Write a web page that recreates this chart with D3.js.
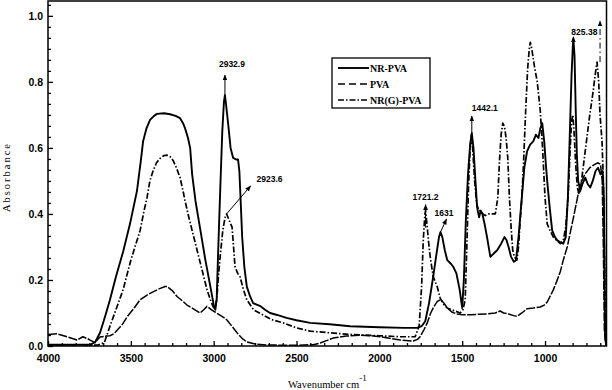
<!DOCTYPE html>
<html lang="en">
<head>
<meta charset="utf-8">
<title>FTIR spectra NR-PVA</title>
<script src="https://d3js.org/d3.v7.min.js"></script>
<style>
  body { margin: 0; background: white; }
  .axis text { font-family: "Liberation Sans", Arial, sans-serif; font-weight: bold; font-size: 10.5px; fill: black; }
  .axis path { display: none; }
  .axis line { stroke: black; stroke-width: 1.3px; }
  .axisTitle { font-family: "Liberation Serif", "Times New Roman", serif; font-size: 10.5px; fill: black; }
  .legendText { font-family: "Liberation Serif", "Times New Roman", serif; font-weight: bold; font-size: 10px; fill: black; }
  .peakLabel { font-family: "Liberation Sans", Arial, sans-serif; font-weight: bold; font-size: 8.5px; fill: black; }
</style>
</head>
<body>
<svg></svg>
<script>
// spectra: [wavenumber, absorbance]
const nrPva = [[4000,0.004],[3850,0.004],[3740,0.005],[3715,0.012],[3686,0.04],[3655,0.09],[3626,0.14],[3590,0.21],[3547,0.285],[3505,0.37],[3463,0.47],[3440,0.56],[3426,0.62],[3405,0.66],[3384,0.685],[3360,0.697],[3342,0.703],[3300,0.705],[3263,0.702],[3230,0.697],[3203,0.69],[3185,0.675],[3173,0.66],[3155,0.63],[3142,0.6],[3130,0.52],[3110,0.44],[3080,0.35],[3050,0.26],[3020,0.18],[2998,0.12],[2990,0.11],[2982,0.14],[2972,0.3],[2960,0.48],[2948,0.65],[2938,0.74],[2932,0.76],[2925,0.73],[2912,0.67],[2898,0.6],[2883,0.57],[2865,0.565],[2853,0.565],[2845,0.53],[2838,0.45],[2828,0.33],[2815,0.24],[2800,0.18],[2780,0.15],[2762,0.13],[2740,0.125],[2715,0.12],[2690,0.11],[2660,0.1],[2617,0.094],[2560,0.085],[2500,0.078],[2418,0.07],[2300,0.066],[2176,0.06],[2000,0.057],[1850,0.055],[1772,0.055],[1745,0.06],[1723,0.075],[1700,0.13],[1675,0.21],[1655,0.28],[1640,0.33],[1631,0.345],[1620,0.33],[1605,0.29],[1590,0.26],[1570,0.25],[1554,0.24],[1535,0.22],[1515,0.17],[1500,0.115],[1490,0.2],[1478,0.38],[1465,0.52],[1452,0.61],[1442,0.645],[1432,0.6],[1420,0.5],[1410,0.42],[1398,0.39],[1388,0.41],[1378,0.4],[1365,0.37],[1350,0.33],[1330,0.27],[1310,0.28],[1289,0.29],[1265,0.31],[1245,0.33],[1232,0.32],[1220,0.3],[1205,0.27],[1188,0.255],[1175,0.26],[1160,0.33],[1140,0.45],[1125,0.54],[1108,0.59],[1090,0.61],[1071,0.62],[1055,0.64],[1040,0.63],[1028,0.66],[1017,0.675],[1005,0.62],[995,0.55],[987,0.5],[972,0.42],[957,0.35],[940,0.33],[926,0.32],[910,0.315],[890,0.31],[875,0.33],[862,0.45],[850,0.65],[840,0.82],[832,0.91],[829,0.93],[822,0.88],[815,0.72],[808,0.58],[800,0.5],[787,0.47],[775,0.49],[757,0.51],[742,0.49],[727,0.48],[712,0.5],[695,0.53],[680,0.54],[665,0.52],[652,0.53],[645,0.45],[640,0.2],[637,0.02],[629,0]];

const pva = [[4000,0.035],[3946,0.037],[3885,0.028],[3825,0.018],[3790,0.028],[3760,0.022],[3746,0.018],[3716,0.01],[3700,0.02],[3686,0.027],[3650,0.03],[3626,0.031],[3600,0.038],[3583,0.048],[3550,0.066],[3523,0.088],[3480,0.115],[3444,0.14],[3400,0.155],[3366,0.164],[3330,0.173],[3293,0.18],[3281,0.18],[3250,0.168],[3221,0.15],[3190,0.137],[3161,0.124],[3120,0.112],[3082,0.1],[3060,0.11],[3040,0.12],[3034,0.118],[3015,0.11],[2992,0.103],[2950,0.09],[2920,0.079],[2890,0.06],[2859,0.04],[2830,0.024],[2800,0.012],[2750,0.006],[2678,0.003],[2500,0.002],[2400,0.004],[2357,0.009],[2279,0.024],[2200,0.03],[2116,0.033],[2050,0.031],[1995,0.028],[1874,0.018],[1796,0.015],[1770,0.02],[1754,0.028],[1730,0.05],[1711,0.07],[1690,0.1],[1670,0.12],[1650,0.135],[1630,0.14],[1610,0.13],[1590,0.115],[1560,0.102],[1530,0.097],[1500,0.095],[1450,0.095],[1400,0.096],[1350,0.097],[1300,0.1],[1271,0.106],[1250,0.1],[1220,0.097],[1190,0.092],[1168,0.09],[1140,0.1],[1108,0.113],[1070,0.115],[1029,0.118],[1005,0.124],[987,0.133],[970,0.15],[950,0.17],[930,0.195],[908,0.225],[890,0.26],[866,0.3],[845,0.35],[820,0.41],[800,0.46],[787,0.49],[760,0.52],[730,0.54],[700,0.55],[680,0.555],[665,0.55],[655,0.5],[648,0.3],[642,0.05],[629,0]];

const nrgPva = [[4000,0.002],[3850,0.002],[3700,0.003],[3660,0.01],[3626,0.06],[3590,0.11],[3547,0.17],[3500,0.26],[3444,0.35],[3420,0.41],[3402,0.45],[3385,0.5],[3366,0.53],[3345,0.555],[3324,0.568],[3300,0.577],[3281,0.578],[3262,0.573],[3245,0.562],[3225,0.54],[3203,0.51],[3185,0.47],[3173,0.44],[3150,0.39],[3120,0.33],[3090,0.27],[3060,0.21],[3040,0.17],[3020,0.14],[3004,0.12],[2992,0.11],[2980,0.15],[2970,0.22],[2961,0.27],[2945,0.35],[2931,0.39],[2922,0.4],[2910,0.385],[2898,0.37],[2889,0.36],[2880,0.3],[2871,0.24],[2855,0.22],[2841,0.21],[2820,0.17],[2800,0.14],[2760,0.11],[2702,0.094],[2650,0.08],[2581,0.07],[2500,0.055],[2418,0.045],[2300,0.04],[2176,0.035],[2000,0.031],[1874,0.028],[1784,0.028],[1760,0.06],[1745,0.18],[1735,0.32],[1725,0.4],[1721,0.41],[1713,0.37],[1700,0.3],[1693,0.27],[1675,0.21],[1651,0.18],[1633,0.145],[1610,0.125],[1590,0.115],[1554,0.108],[1512,0.1],[1495,0.11],[1482,0.14],[1472,0.3],[1462,0.48],[1452,0.6],[1445,0.64],[1437,0.6],[1425,0.5],[1412,0.43],[1400,0.41],[1391,0.41],[1375,0.4],[1360,0.395],[1340,0.4],[1320,0.4],[1300,0.4],[1285,0.45],[1275,0.56],[1265,0.64],[1255,0.675],[1245,0.665],[1235,0.63],[1225,0.57],[1215,0.45],[1205,0.36],[1195,0.29],[1185,0.27],[1170,0.26],[1160,0.3],[1150,0.38],[1140,0.45],[1130,0.55],[1118,0.7],[1105,0.84],[1095,0.9],[1089,0.92],[1080,0.9],[1065,0.85],[1047,0.8],[1029,0.715],[1015,0.6],[1000,0.45],[987,0.37],[970,0.35],[950,0.33],[930,0.32],[908,0.31],[890,0.32],[875,0.36],[860,0.46],[848,0.6],[840,0.68],[832,0.7],[825,0.65],[815,0.55],[805,0.48],[795,0.46],[785,0.48],[770,0.54],[750,0.62],[730,0.7],[710,0.77],[695,0.83],[686,0.86],[676,0.8],[668,0.7],[656,0.62],[648,0.5],[642,0.3],[636,0.08],[629,0]];

const seriesNames = ["NR-PVA", "PVA", "NR(G)-PVA"];
const xTicks = [4000, 3500, 3000, 2500, 2000, 1500, 1000];
const yTicks = [0, 0.2, 0.4, 0.6, 0.8, 1.0];

// peak annotations
const peakLabels = ["2932.9", "2923.6", "1721.2", "1631", "1442.1", "825.38"];
const peakWaves  = [2932, 2922, 1721, 1631, 1442, 829];
const peakAbs    = [0.76, 0.40, 0.41, 0.345, 0.645, 0.93];

const width = 612, height = 390;
const svg = d3.select("svg").attr("width", width).attr("height", height);

const x = d3.scaleLinear().domain([4000, 629]).range([48, 606.5]);
const y = d3.scaleLinear().domain([0, 1.045]).range([346, 1]);

// minor ticks, 5 between each pair of majors
const xMinor = d3.range(4000, 629, -500 / 6).filter(v => Math.abs(v % 500) > 1 && Math.abs(v % 500) < 499);
const yMinor = d3.range(0, 1.045, 0.2 / 6).filter(v => Math.abs((v * 5) - Math.round(v * 5)) > 0.01);

svg.append("g").attr("class", "axis")
  .attr("transform", "translate(0,346)")
  .call(d3.axisBottom(x).tickValues(xMinor).tickSize(-3).tickFormat(""));
svg.append("g").attr("class", "axis")
  .attr("transform", "translate(0,346)")
  .call(d3.axisBottom(x).tickValues(xTicks).tickSize(-5).tickPadding(9).tickFormat(d3.format("d")));

svg.append("g").attr("class", "axis")
  .attr("transform", "translate(48,0)")
  .call(d3.axisLeft(y).tickValues(yMinor).tickSize(-3).tickFormat(""));
svg.append("g").attr("class", "axis")
  .attr("transform", "translate(48,0)")
  .call(d3.axisLeft(y).tickValues(yTicks).tickSize(-5).tickPadding(5).tickFormat(d3.format(".1f")));

svg.append("clipPath").attr("id", "plotClip")
  .append("rect").attr("x", 48).attr("y", 1).attr("width", 558.5).attr("height", 345);

const line = d3.line().x(d => x(d[0])).y(d => y(d[1]));

const styles = [
  {data: nrPva, dash: null, w: 1.9},
  {data: pva, dash: "9,1.5", w: 1.5},
  {data: nrgPva, dash: "6,2,1.5,2", w: 1.7}
];

svg.append("g").attr("clip-path", "url(#plotClip)")
  .selectAll("path")
  .data(styles)
  .join("path")
  .attr("d", d => line(d.data))
  .attr("fill", "none")
  .attr("stroke", "black")
  .attr("stroke-width", d => d.w)
  .attr("stroke-linejoin", "round")
  .attr("stroke-dasharray", d => d.dash);

// frame
svg.append("rect")
  .attr("x", 48).attr("y", 1).attr("width", 558.5).attr("height", 345)
  .attr("fill", "none").attr("stroke", "black").attr("stroke-width", 1.5);

// arrow marker
svg.append("defs").append("marker")
  .attr("id", "head")
  .attr("viewBox", "0 0 10 10").attr("refX", 9).attr("refY", 5)
  .attr("markerUnits", "userSpaceOnUse")
  .attr("markerWidth", 6).attr("markerHeight", 7)
  .attr("orient", "auto")
  .append("path").attr("d", "M0,1 L10,5 L0,9 Z").attr("fill", "black");

// where each arrow starts/ends and its label sits, relative to the peak
const annoLayout = [
  {b: [0, 0],   t: [0, -20],  l: [7, -28],  anchor: "middle"},
  {b: [0, 0],   t: [24, -28], l: [30, -32], anchor: "start"},
  {b: [0, 17],  t: [0, -6],   l: [0, -11],  anchor: "middle"},
  {b: [0, 0],   t: [6, -13],  l: [-6, -16], anchor: "start"},
  {b: [0, 0],   t: [0, -17],  l: [13, -22], anchor: "middle"},
  {b: [0, 4],   t: [0, -2],   l: [11, -4],  anchor: "middle"}
];

const anno = svg.append("g");
peakLabels.forEach((lab, i) => {
  const px = x(peakWaves[i]), py = y(peakAbs[i]);
  const L = annoLayout[i];
  anno.append("line")
    .attr("x1", px + L.b[0]).attr("y1", py + L.b[1])
    .attr("x2", px + L.t[0]).attr("y2", py + L.t[1])
    .attr("stroke", "black").attr("stroke-width", 1)
    .attr("marker-end", "url(#head)");
  anno.append("text")
    .attr("class", "peakLabel")
    .attr("x", px + L.l[0]).attr("y", py + L.l[1])
    .attr("text-anchor", L.anchor)
    .text(lab);
});

// unlabeled arrow over the last band
anno.append("line")
  .attr("x1", x(668)).attr("y1", y(0.86))
  .attr("x2", x(668)).attr("y2", 21)
  .attr("stroke", "black").attr("stroke-width", 1)
  .attr("stroke-dasharray", "6,3,1.5,3")
  .attr("marker-end", "url(#head)");

// legend
const legend = svg.append("g").attr("transform", "translate(332,58)");
legend.append("rect").attr("width", 98).attr("height", 50)
  .attr("fill", "white").attr("stroke", "black").attr("stroke-width", 1.3);
styles.forEach((s, i) => {
  const ly = 10 + i * 16;
  legend.append("line")
    .attr("x1", 6).attr("x2", 37).attr("y1", ly).attr("y2", ly)
    .attr("stroke", "black").attr("stroke-width", s.w)
    .attr("stroke-dasharray", i === 1 ? "7,4" : s.dash);
  legend.append("text").attr("class", "legendText")
    .attr("x", 38).attr("y", ly + 3.5).text(seriesNames[i]);
});

// axis titles
const xt = svg.append("text").attr("class", "axisTitle")
  .attr("x", 288).attr("y", 388);
xt.append("tspan").text("Wavenumber cm");
xt.append("tspan").attr("dy", -7).attr("font-size", "9px").text("-1");

svg.append("text").attr("class", "axisTitle")
  .attr("transform", "translate(10,178) rotate(-90)")
  .attr("text-anchor", "middle")
  .attr("font-size", "11px")
  .attr("textLength", 68).attr("lengthAdjust", "spacing")
  .text("Absorbance");
</script>
</body>
</html>
